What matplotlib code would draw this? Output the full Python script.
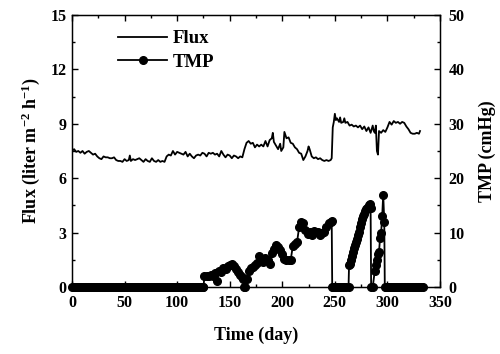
import numpy as np
import matplotlib
matplotlib.use("Agg")
import matplotlib.pyplot as plt
from matplotlib.ticker import MultipleLocator

plt.rcParams['font.family'] = ['Liberation Serif', 'DejaVu Serif']
plt.rcParams['font.weight'] = 'bold'
plt.rcParams['mathtext.fontset'] = 'custom'
plt.rcParams['mathtext.rm'] = 'Liberation Serif:bold'
plt.rcParams['mathtext.bf'] = 'Liberation Serif:bold'
plt.rcParams['mathtext.default'] = 'bf'

flux_day = [0, 2, 4, 6, 8, 10, 12, 14, 16, 18, 20, 22, 24, 26, 28, 30, 32, 34, 36, 38, 40, 42, 44, 46, 48,
            50, 52, 54, 55, 56, 58, 60, 62, 64, 66, 68, 70, 72, 74, 76, 78, 80, 82, 84, 86, 88, 90, 92, 94,
            96, 98, 100, 102, 104, 106, 108, 110, 112, 114, 116, 118, 120, 122, 124, 126, 128, 130, 132,
            134, 136, 138, 140, 142, 144, 146, 148, 150, 152, 154, 156, 158, 160, 162, 164, 166, 168, 170,
            172, 174, 176, 178, 180, 182, 184, 186, 188, 190, 191, 192, 194, 196, 198, 199, 201, 202, 204,
            206, 208, 210, 212, 214, 216, 218, 220, 222, 224, 225, 226, 228, 230, 232, 234, 236, 238, 240,
            242, 244, 246, 247, 248, 249, 250, 251, 252, 254, 255, 256, 258, 259, 260, 262, 264, 266, 268,
            270, 272, 274, 276, 278, 280, 282, 284, 286, 287, 288, 289, 290, 291, 292, 294, 296, 298, 300,
            302, 304, 306, 308, 310, 312, 314, 316, 318, 320, 322, 324, 326, 328, 330, 331]
flux_val = [7.5, 7.6, 7.45, 7.5, 7.4, 7.5, 7.35, 7.45, 7.5, 7.4, 7.3, 7.35, 7.2, 7.1, 7.05, 7.2, 7.15, 7.15,
            7.1, 7.1, 7.15, 7.0, 6.95, 6.95, 6.9, 7.05, 6.95, 7.0, 7.25, 6.95, 7.05, 7.0, 7.05, 7.1, 7.0,
            6.9, 7.05, 6.95, 6.9, 7.1, 6.95, 6.9, 7.0, 6.9, 6.95, 6.9, 7.2, 7.3, 7.25, 7.5, 7.3, 7.45, 7.4,
            7.35, 7.3, 7.45, 7.2, 7.35, 7.2, 7.1, 7.25, 7.3, 7.25, 7.4, 7.35, 7.2, 7.4, 7.35, 7.4, 7.3, 7.35,
            7.2, 7.5, 7.3, 7.15, 7.3, 7.25, 7.1, 7.25, 7.2, 7.1, 7.2, 7.15, 7.6, 7.95, 8.05, 7.9, 7.95, 7.7,
            7.85, 7.75, 7.85, 7.75, 8.05, 7.75, 8.1, 8.2, 8.5, 8.0, 7.8, 7.6, 7.9, 7.5, 7.7, 8.55, 8.2, 8.25,
            7.95, 7.9, 7.7, 7.6, 7.4, 7.35, 7.0, 7.2, 7.5, 7.75, 7.6, 7.2, 7.1, 7.15, 7.05, 7.1, 7.0, 6.95,
            7.0, 6.95, 7.0, 7.1, 8.8, 9.1, 9.55, 9.2, 9.3, 9.1, 9.35, 9.05, 9.1, 9.3, 9.05, 9.1, 8.9, 8.95,
            8.85, 8.9, 8.8, 8.9, 8.7, 8.85, 8.6, 8.8, 8.5, 8.9, 8.6, 8.5, 8.9, 7.5, 7.3, 8.6, 8.5, 8.65,
            8.55, 8.8, 9.1, 8.95, 9.15, 9.05, 9.1, 9.0, 9.1, 9.05, 8.85, 8.7, 8.5, 8.45, 8.45, 8.5, 8.45, 8.6]

# TMP: zero periods and non-zero segments
tmp_zero1_day = np.arange(0, 125, 1.5)
tmp_seg1_day = [125, 126, 128, 130, 132, 134, 136, 138, 140, 142, 144, 146, 148, 150, 152, 154, 156, 158,
                160, 162, 163, 164, 165,
                166, 168, 170, 172, 174, 176, 178, 180, 182, 184, 186, 188, 190, 192, 194, 196, 198, 200,
                202, 204, 206, 208, 210, 212, 214, 216, 218, 220, 222, 224, 226, 228, 230, 232, 234, 236,
                238, 240, 242, 244, 246, 247, 247.5]
tmp_seg1_val = [0, 2.0, 2.1, 2.0, 2.2, 2.0, 2.5, 1.2, 3.0, 2.8, 3.5, 3.3, 3.8, 4.1, 4.2, 3.8, 3.3, 2.8,
                2.3, 1.9, 1.5, 0, 0,
                1.5, 3.0, 3.5, 3.6, 4.0, 4.5, 5.8, 5.0, 4.6, 5.4, 5.0, 4.2, 6.3, 7.0, 7.8, 7.4, 6.8, 6.0,
                5.2, 5.0, 5.0, 5.0, 7.5, 8.0, 8.2, 11.0, 12.0, 11.7, 10.5, 9.7, 10.2, 9.5, 10.3, 10.2, 10.2,
                9.5, 10.0, 10.2, 11.0, 11.8, 12.0, 12.1, 0]
tmp_zero2_day = np.arange(248.5, 262, 1.5)
tmp_seg2_day = [263, 263.5, 264, 265, 266, 267, 268, 269, 270, 271, 272, 273, 274, 275, 276, 277, 278, 279,
                280, 281, 282, 283, 284, 284.5, 286, 288, 289, 290, 291, 292, 293, 294, 295, 296, 297, 297.5]
tmp_seg2_val = [0, 4.0, 4.3, 5.0, 5.8, 6.5, 7.2, 7.8, 8.3, 8.8, 9.5, 10.2, 11.0, 11.8, 12.5, 13.0, 13.5,
                14.0, 14.4, 14.6, 15.0, 15.2, 14.5, 0, 0, 3.0, 4.0, 5.0, 6.0, 6.5, 9.0, 10.0, 13.0, 17.0,
                12.0, 0]
tmp_zero3_day = np.arange(299, 334, 1.5)

tmp_day = np.concatenate([tmp_zero1_day, tmp_seg1_day, tmp_zero2_day, tmp_seg2_day, tmp_zero3_day])
tmp_val = np.concatenate([np.zeros(len(tmp_zero1_day)), tmp_seg1_val, np.zeros(len(tmp_zero2_day)),
                          tmp_seg2_val, np.zeros(len(tmp_zero3_day))])

fig = plt.figure(figsize=(5.0, 3.54), dpi=100)
ax = fig.add_axes([0.144, 0.189, 0.736, 0.769])
ax2 = ax.twinx()

l1, = ax.plot(flux_day, flux_val, color='black', lw=1.3, label='Flux')
l2, = ax2.plot(tmp_day, tmp_val, color='black', lw=1.3, marker='o', markersize=5.5,
               clip_on=False, label='TMP')

ax.set_xlim(0, 350)
ax.set_ylim(0, 15)
ax2.set_ylim(0, 50)
ax.xaxis.set_major_locator(MultipleLocator(50))
ax.xaxis.set_minor_locator(MultipleLocator(25))
ax.yaxis.set_major_locator(MultipleLocator(3))
ax.yaxis.set_minor_locator(MultipleLocator(1.5))
ax2.yaxis.set_major_locator(MultipleLocator(10))
ax2.yaxis.set_minor_locator(MultipleLocator(5))

for a in (ax, ax2):
    a.tick_params(which='both', direction='in', labelsize=11.5, width=1)
    a.tick_params(which='major', length=4.5)
    a.tick_params(which='minor', length=2.5)
    for lab in a.get_xticklabels() + a.get_yticklabels():
        lab.set_fontweight('bold')
ax.tick_params(axis='x', top=True, which='both', pad=6)
ax.tick_params(axis='y', pad=4)
ax2.tick_params(axis='y', pad=6)
for s in ax.spines.values():
    s.set_linewidth(1.0)

ax.set_xlabel('Time (day)', fontsize=13, fontweight='bold', labelpad=11)
ax.set_ylabel('Flux (liter m$^{-2}$ h$^{-1}$)', fontsize=13, fontweight='bold', labelpad=6)
ax2.set_ylabel('TMP (cmHg)', fontsize=13, fontweight='bold', labelpad=10)

leg = ax.legend(handles=[l1, l2], loc='upper left', bbox_to_anchor=(0.095, 0.985), frameon=False,
                handlelength=2.6, prop={'family': 'Liberation Serif', 'weight': 'bold', 'size': 13.5},
                labelspacing=0.35, handletextpad=0.3, borderaxespad=0.2)

fig.savefig('out.png', dpi=100)
